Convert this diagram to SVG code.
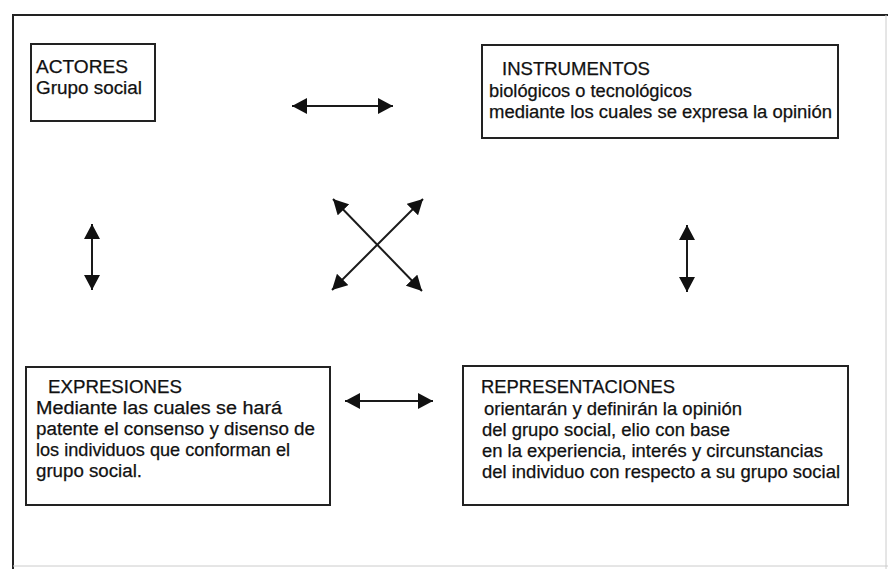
<svg xmlns="http://www.w3.org/2000/svg" width="888" height="569" viewBox="0 0 888 569">
<defs>
<marker id="ah" markerUnits="userSpaceOnUse" markerWidth="16" markerHeight="16" refX="15" refY="8" orient="auto-start-reverse" viewBox="0 0 16 16">
<path d="M0,0 L15,8 L0,16 z" fill="#111"/>
</marker>
<style>
.box{fill:#fff;stroke:#222;stroke-width:2}
.t{font-family:"Liberation Sans",Arial,sans-serif;font-size:18px;fill:#111;stroke:#111;stroke-width:0.25}
.c{stroke:#1a1a1a;stroke-width:2;fill:none;marker-start:url(#ah);marker-end:url(#ah)}
</style>
</defs>
<rect width="888" height="569" fill="#fff"/>
<g id="frame">
<line x1="12" y1="15" x2="888" y2="15" stroke="#222" stroke-width="2"/>
<line x1="13" y1="14" x2="13" y2="569" stroke="#222" stroke-width="2"/>
<line x1="886" y1="15" x2="886" y2="569" stroke="#ccc" stroke-width="1"/>
<line x1="13" y1="566" x2="888" y2="566" stroke="#ccc" stroke-width="1"/>
</g>
<g id="actores">
<rect class="box" x="31" y="44" width="124" height="77"/>
<text class="t" x="36" y="73" textLength="92" lengthAdjust="spacingAndGlyphs">ACTORES</text>
<text class="t" x="36" y="94" textLength="106" lengthAdjust="spacingAndGlyphs">Grupo social</text>
</g>
<g id="instrumentos">
<rect class="box" x="482" y="45" width="356" height="93"/>
<text class="t" x="502" y="75" textLength="148" lengthAdjust="spacingAndGlyphs">INSTRUMENTOS</text>
<text class="t" x="489" y="97" textLength="203" lengthAdjust="spacingAndGlyphs">biológicos o tecnológicos</text>
<text class="t" x="489" y="118" textLength="343" lengthAdjust="spacingAndGlyphs">mediante los cuales se expresa la opinión</text>
</g>
<g id="expresiones">
<rect class="box" x="26" y="367" width="304" height="138"/>
<text class="t" x="48" y="393" textLength="134" lengthAdjust="spacingAndGlyphs">EXPRESIONES</text>
<text class="t" x="36" y="414" textLength="246" lengthAdjust="spacingAndGlyphs">Mediante las cuales se hará</text>
<text class="t" x="36" y="435" textLength="279" lengthAdjust="spacingAndGlyphs">patente el consenso y disenso de</text>
<text class="t" x="36" y="456" textLength="254" lengthAdjust="spacingAndGlyphs">los individuos que conforman el</text>
<text class="t" x="36" y="477" textLength="106" lengthAdjust="spacingAndGlyphs">grupo social.</text>
</g>
<g id="representaciones">
<rect class="box" x="463" y="366" width="385" height="139"/>
<text class="t" x="481" y="393" textLength="194" lengthAdjust="spacingAndGlyphs">REPRESENTACIONES</text>
<text class="t" x="484" y="415" textLength="258" lengthAdjust="spacingAndGlyphs">orientarán y definirán la opinión</text>
<text class="t" x="482" y="436" textLength="248" lengthAdjust="spacingAndGlyphs">del grupo social, elio con base</text>
<text class="t" x="482" y="457" textLength="341" lengthAdjust="spacingAndGlyphs">en la experiencia, interés y circunstancias</text>
<text class="t" x="482" y="478" textLength="358" lengthAdjust="spacingAndGlyphs">del individuo con respecto a su grupo social</text>
</g>
<g id="connectors">
<line class="c" x1="292" y1="106" x2="393" y2="106"/>
<line class="c" x1="92" y1="224" x2="92" y2="290"/>
<line class="c" x1="687" y1="225" x2="687" y2="292"/>
<line class="c" x1="345" y1="401" x2="433" y2="401"/>
<line class="c" x1="333" y1="199" x2="422" y2="291"/>
<line class="c" x1="423" y1="199" x2="332" y2="290"/>
</g>
</svg>
